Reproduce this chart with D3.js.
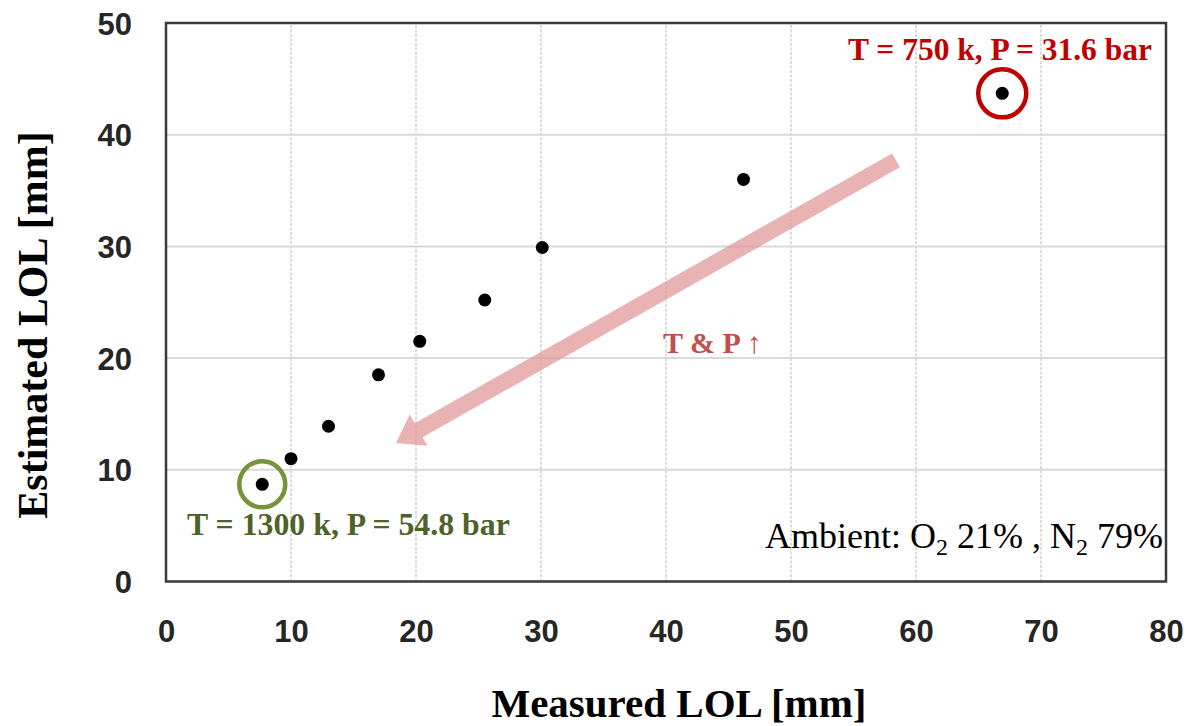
<!DOCTYPE html>
<html>
<head>
<meta charset="utf-8">
<script src="https://cdn.jsdelivr.net/npm/d3@7"></script>
<style>
  html, body { margin: 0; padding: 0; background: #fff; }
  svg { display: block; }
</style>
</head>
<body>
<svg id="chart" width="1191" height="726"></svg>
<script>
// Measured vs. estimated lift-off length (LOL), mm
const measuredLOL  = [7.7, 10.0, 13.0, 17.0, 20.3, 25.5, 30.1, 46.2, 66.9];
const estimatedLOL = [8.7, 11.0, 13.9, 18.5, 21.5, 25.2, 29.9, 36.0, 43.7];

const xTicks = [0, 10, 20, 30, 40, 50, 60, 70, 80];
const yTicks = [0, 10, 20, 30, 40, 50];

// Highlighted operating points (index into the series above)
const highlights = [
  { idx: 8, label: "T = 750 k, P = 31.6 bar", color: "#c00000", r: 24 },
  { idx: 0, label: "T = 1300 k, P = 54.8 bar", color: "#77933c", r: 23 }
];

// Trend arrow (data coordinates): tail -> head
const trendArrow = { from: [58.4, 37.7], to: [18.4, 12.4], label: "T & P \u2191" };

const svg = d3.select("#chart");
const margin = { left: 166, right: 25, top: 23, bottom: 144.5 };
const W = 1191, H = 726;

const x = d3.scaleLinear().domain([0, 80]).range([margin.left, W - margin.right]);
const y = d3.scaleLinear().domain([0, 50]).range([H - margin.bottom, margin.top]);

// Gridlines
const grid = svg.append("g");
grid.selectAll("line.h").data(yTicks.filter(d => d > 0 && d < 50)).join("line")
  .attr("x1", x(0)).attr("x2", x(80))
  .attr("y1", d => y(d)).attr("y2", d => y(d))
  .attr("stroke", "#d9d9d9").attr("stroke-width", 2);
grid.selectAll("line.v").data(xTicks.filter(d => d > 0 && d < 80)).join("line")
  .attr("y1", y(0)).attr("y2", y(50))
  .attr("x1", d => x(d)).attr("x2", d => x(d))
  .attr("stroke", "#dcdcdc").attr("stroke-width", 2)
  .attr("stroke-dasharray", "3,1.5");

// Axes (labels only; the frame is drawn separately)
const xAxis = svg.append("g")
  .attr("transform", `translate(0,${y(0)})`)
  .call(d3.axisBottom(x).tickValues(xTicks).tickSize(0).tickPadding(38));
const yAxis = svg.append("g")
  .attr("transform", `translate(${x(0)},0)`)
  .call(d3.axisLeft(y).tickValues(yTicks).tickSize(0).tickPadding(34));
[xAxis, yAxis].forEach(g => {
  g.select(".domain").remove();
  g.selectAll("text")
    .attr("font-family", "'Liberation Sans', Arial, sans-serif")
    .attr("font-weight", "bold")
    .attr("font-size", 31)
    .attr("fill", "#262626");
});
yAxis.selectAll("text").attr("dy", "0.36em");

// Plot frame
svg.append("rect")
  .attr("x", x(0)).attr("y", y(50))
  .attr("width", x(80) - x(0)).attr("height", y(0) - y(50))
  .attr("fill", "none").attr("stroke", "#3a3a3a").attr("stroke-width", 2.5);

// Trend arrow
(function () {
  const [x0, y0] = [x(trendArrow.from[0]), y(trendArrow.from[1])];
  const [x1, y1] = [x(trendArrow.to[0]), y(trendArrow.to[1])];
  const dx = x1 - x0, dy = y1 - y0, len = Math.hypot(dx, dy);
  const ux = dx / len, uy = dy / len, nx = -uy, ny = ux;
  const sw = 8, hw = 18, hl = 26;
  const bx = x1 - ux * hl, by = y1 - uy * hl;
  const pts = [
    [x0 + nx * sw, y0 + ny * sw],
    [bx + nx * sw, by + ny * sw],
    [bx + nx * hw, by + ny * hw],
    [x1, y1],
    [bx - nx * hw, by - ny * hw],
    [bx - nx * sw, by - ny * sw],
    [x0 - nx * sw, y0 - ny * sw]
  ];
  svg.append("path")
    .attr("d", d3.line()(pts) + "Z")
    .attr("fill", "#e39a9a").attr("opacity", 0.75);
})();

svg.append("text")
  .attr("x", 663).attr("y", 353)
  .attr("font-family", "'Liberation Serif', 'Times New Roman', serif")
  .attr("font-weight", "bold").attr("font-size", 30)
  .attr("fill", "#c0504d")
  .text(trendArrow.label);

// Data points
svg.append("g").selectAll("circle").data(measuredLOL).join("circle")
  .attr("cx", d => x(d))
  .attr("cy", (d, i) => y(estimatedLOL[i]))
  .attr("r", 6.5)
  .attr("fill", "#000");

// Highlight rings
svg.append("g").selectAll("circle").data(highlights).join("circle")
  .attr("cx", d => x(measuredLOL[d.idx]))
  .attr("cy", d => y(estimatedLOL[d.idx]))
  .attr("r", d => d.r)
  .attr("fill", "none")
  .attr("stroke", d => d.color)
  .attr("stroke-width", 4.5);

const labelFont = "'Liberation Serif', 'Times New Roman', serif";
svg.append("text")
  .attr("x", 1152).attr("y", 60).attr("text-anchor", "end")
  .attr("font-family", labelFont).attr("font-weight", "bold").attr("font-size", 31.5)
  .attr("fill", highlights[0].color)
  .text(highlights[0].label);
svg.append("text")
  .attr("x", 187).attr("y", 535)
  .attr("font-family", labelFont).attr("font-weight", "bold").attr("font-size", 31.8)
  .attr("fill", "#4f6228")
  .text(highlights[1].label);

// Ambient composition note
const amb = svg.append("text")
  .attr("x", 1163).attr("y", 548).attr("text-anchor", "end")
  .attr("font-family", labelFont).attr("font-size", 36).attr("fill", "#000");
amb.append("tspan").text("Ambient:  O");
amb.append("tspan").attr("font-size", 24).attr("dy", 7).text("2");
amb.append("tspan").attr("dy", -7).text(" 21% , N");
amb.append("tspan").attr("font-size", 24).attr("dy", 7).text("2");
amb.append("tspan").attr("dy", -7).text(" 79%");

// Axis titles
svg.append("text")
  .attr("x", 679).attr("y", 717)
  .attr("text-anchor", "middle")
  .attr("font-family", labelFont).attr("font-weight", "bold").attr("font-size", 41)
  .attr("fill", "#000")
  .text("Measured  LOL [mm]");
svg.append("text")
  .attr("transform", `translate(47,${325}) rotate(-90)`)
  .attr("text-anchor", "middle")
  .attr("font-family", labelFont).attr("font-weight", "bold").attr("font-size", 42)
  .attr("fill", "#000")
  .text("Estimated  LOL [mm]");
</script>
</body>
</html>
